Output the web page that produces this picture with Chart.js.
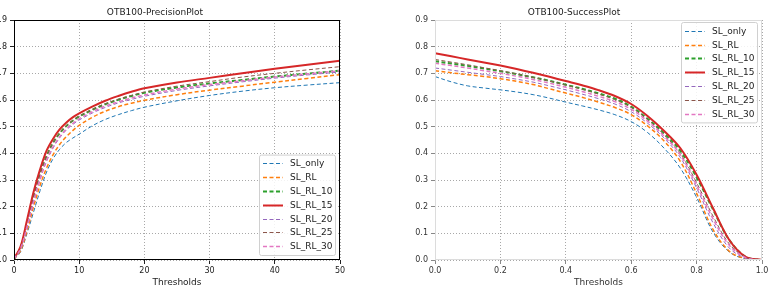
<!doctype html>
<html lang="en">
<head>
<meta charset="utf-8">
<title>OTB100 precision / success</title>
<style>
  html, body { margin: 0; padding: 0; background: #fff; overflow: hidden; }
  #wrap { position: relative; width: 772px; height: 288px; overflow: hidden; }
  canvas { position: absolute; top: 0; }
  #precisionChart { left: -30px; }
  #successChart { left: 386px; }
</style>
</head>
<body>
<div id="wrap">
  <canvas id="precisionChart" width="416" height="288"></canvas>
  <canvas id="successChart" width="425" height="288"></canvas>
</div>
<script src="https://cdn.jsdelivr.net/npm/chart.js@4.4.0/dist/chart.umd.min.js"></script>
<script>
// series names, same order in both plots
const seriesNames = ['SL_only', 'SL_RL', 'SL_RL_10', 'SL_RL_15', 'SL_RL_20', 'SL_RL_25', 'SL_RL_30'];

// precision plot (location error thresholds, px)
const precThresholds = [0, 1, 2, 3, 4, 5, 6, 7, 8, 9, 10, 12, 14, 16, 18, 20, 25, 30, 35, 40, 45, 50];
const precSLonly = [0.003, 0.03, 0.10, 0.18, 0.26, 0.33, 0.38, 0.415, 0.44, 0.457, 0.472, 0.503, 0.527, 0.545, 0.56, 0.573, 0.597, 0.617, 0.633, 0.646, 0.656, 0.665];
const precSLRL = [0.004, 0.035, 0.11, 0.20, 0.28, 0.345, 0.395, 0.433, 0.462, 0.485, 0.505, 0.535, 0.558, 0.575, 0.588, 0.599, 0.62, 0.637, 0.652, 0.667, 0.681, 0.695];
const precSLRL10 = [0.005, 0.045, 0.135, 0.24, 0.325, 0.39, 0.44, 0.475, 0.502, 0.522, 0.538, 0.563, 0.584, 0.601, 0.615, 0.627, 0.647, 0.662, 0.675, 0.688, 0.699, 0.71];
const precSLRL15 = [0.005, 0.05, 0.15, 0.255, 0.34, 0.41, 0.455, 0.49, 0.515, 0.535, 0.55, 0.575, 0.597, 0.615, 0.631, 0.644, 0.666, 0.683, 0.70, 0.717, 0.732, 0.747];
const precSLRL20 = [0.004, 0.04, 0.12, 0.215, 0.30, 0.37, 0.42, 0.458, 0.487, 0.508, 0.525, 0.551, 0.572, 0.589, 0.602, 0.614, 0.636, 0.653, 0.668, 0.682, 0.694, 0.705];
const precSLRL25 = [0.005, 0.045, 0.13, 0.235, 0.32, 0.39, 0.44, 0.476, 0.503, 0.523, 0.54, 0.565, 0.586, 0.603, 0.617, 0.63, 0.652, 0.669, 0.686, 0.70, 0.713, 0.725];
const precSLRL30 = [0.004, 0.042, 0.125, 0.22, 0.305, 0.375, 0.425, 0.462, 0.49, 0.512, 0.53, 0.556, 0.577, 0.593, 0.607, 0.619, 0.641, 0.658, 0.672, 0.686, 0.698, 0.71];

// success plot (overlap thresholds)
const succThresholds = [0, 0.05, 0.1, 0.15, 0.2, 0.25, 0.3, 0.35, 0.4, 0.45, 0.5, 0.55, 0.6, 0.65, 0.7, 0.75, 0.8, 0.85, 0.9, 0.95, 1.0];
const succSLonly = [0.688, 0.668, 0.653, 0.645, 0.638, 0.63, 0.62, 0.607, 0.592, 0.578, 0.563, 0.545, 0.519, 0.478, 0.42, 0.345, 0.235, 0.105, 0.03, 0.004, 0];
const succSLRL = [0.71, 0.702, 0.695, 0.688, 0.68, 0.67, 0.658, 0.642, 0.626, 0.61, 0.592, 0.572, 0.545, 0.503, 0.447, 0.37, 0.25, 0.115, 0.033, 0.005, 0];
const succSLRL10 = [0.745, 0.737, 0.728, 0.718, 0.708, 0.697, 0.685, 0.672, 0.657, 0.642, 0.625, 0.605, 0.575, 0.53, 0.476, 0.41, 0.31, 0.19, 0.075, 0.012, 0];
const succSLRL15 = [0.775, 0.764, 0.752, 0.741, 0.729, 0.716, 0.702, 0.687, 0.671, 0.655, 0.637, 0.615, 0.585, 0.54, 0.485, 0.42, 0.32, 0.195, 0.075, 0.012, 0];
const succSLRL20 = [0.72, 0.712, 0.704, 0.696, 0.688, 0.678, 0.667, 0.653, 0.638, 0.622, 0.605, 0.585, 0.556, 0.513, 0.458, 0.385, 0.27, 0.14, 0.045, 0.007, 0];
const succSLRL25 = [0.752, 0.742, 0.732, 0.721, 0.71, 0.698, 0.685, 0.671, 0.656, 0.64, 0.622, 0.601, 0.572, 0.527, 0.47, 0.40, 0.29, 0.165, 0.06, 0.01, 0];
const succSLRL30 = [0.738, 0.729, 0.72, 0.71, 0.70, 0.689, 0.677, 0.663, 0.648, 0.632, 0.614, 0.594, 0.565, 0.521, 0.465, 0.395, 0.28, 0.155, 0.055, 0.009, 0];

const precSeries = [precSLonly, precSLRL, precSLRL10, precSLRL15, precSLRL20, precSLRL25, precSLRL30];
const succSeries = [succSLonly, succSLRL, succSLRL10, succSLRL15, succSLRL20, succSLRL25, succSLRL30];

// matplotlib default cycle
const colors = ['#1f77b4', '#ff7f0e', '#2ca02c', '#d62728', '#9467bd', '#8c564b', '#e377c2'];
const widths = [1, 1.5, 2, 2, 1, 1, 1.5];
const dashes = [[4, 2.5], [4, 2.5], [4, 2.5], [], [4, 2.5], [4, 2.5], [4, 2.5]];

Chart.defaults.font.family = '"DejaVu Sans", sans-serif';
Chart.defaults.animation = false;

function makeDatasets(xs, series) {
  return series.map((vals, i) => ({
    label: seriesNames[i],
    data: xs.map((x, j) => ({ x: x, y: vals[j] })),
    borderColor: colors[i],
    backgroundColor: colors[i],
    borderWidth: widths[i],
    borderDash: dashes[i],
    pointRadius: 0,
    fill: false,
    tension: 0.35,
    order: series.length - i
  }));
}

// box around the axes
const framePlugin = {
  id: 'frame',
  afterDatasetsDraw(chart, args, opts) {
    const a = chart.chartArea, ctx = chart.ctx;
    ctx.save();
    ctx.strokeStyle = opts.color || '#000';
    ctx.lineWidth = 1;
    ctx.strokeRect(Math.round(a.left) + 0.5, Math.round(a.top) + 0.5,
                   Math.round(a.right - a.left) - 1, Math.round(a.bottom - a.top) - 1);
    ctx.restore();
  }
};

// matplotlib-like legend inside the axes
const boxLegend = {
  id: 'boxLegend',
  afterDraw(chart, args, opts) {
    const a = chart.chartArea, ctx = chart.ctx;
    const sets = chart.data.datasets;
    const rowH = 13.8, w = 76, h = rowH * (sets.length - 1) + 17.6;
    const left = a.right - 5 - w;
    const top = opts.corner === 'top' ? a.top + 2 : a.bottom - 5 - h;
    ctx.save();
    ctx.fillStyle = 'rgba(255,255,255,0.85)';
    ctx.strokeStyle = '#d0d0d0';
    ctx.lineWidth = 1;
    ctx.beginPath();
    ctx.roundRect(left + 0.5, top + 0.5, w, h, 2);
    ctx.fill();
    ctx.stroke();
    ctx.font = '9px "DejaVu Sans"';
    ctx.textBaseline = 'middle';
    sets.forEach((ds, i) => {
      const y = Math.round(top + 8.8 + i * rowH) + 0.5;
      ctx.strokeStyle = ds.borderColor;
      ctx.lineWidth = ds.borderWidth;
      ctx.setLineDash(ds.borderDash);
      ctx.beginPath();
      ctx.moveTo(left + 4, y);
      ctx.lineTo(left + 24, y);
      ctx.stroke();
      ctx.setLineDash([]);
      ctx.fillStyle = '#222';
      ctx.fillText(ds.label, left + 31, y);
    });
    ctx.restore();
  }
};

function axisOpts(min, max, step, fmt, tickColor, labelColor, fit) {
  return {
    type: 'linear', min: min, max: max,
    ticks: { stepSize: step, callback: fmt, color: labelColor, font: { size: 8 }, padding: 3, maxRotation: 0 },
    grid: { color: '#a8a8a8', lineWidth: 1, tickColor: tickColor, tickLength: 4, tickWidth: 1 },
    border: { display: false, dash: [1, 2] },
    afterFit: fit
  };
}

function buildChart(id, xs, series, opt) {
  const xAxis = axisOpts(opt.xMin, opt.xMax, opt.xStep, opt.xFmt, opt.tickColor, opt.labelColor, s => { s.height = 28; });
  xAxis.ticks.padding = 2;
  xAxis.title = { display: true, text: 'Thresholds', font: { size: 9 }, color: opt.labelColor, padding: 0 };
  const yAxis = axisOpts(0, 0.9, 0.1, v => v.toFixed(1), opt.tickColor, opt.labelColor, s => { s.width = opt.yWidth; });
  return new Chart(document.getElementById(id), {
    type: 'line',
    data: { datasets: makeDatasets(xs, series) },
    options: {
      responsive: false,
      layout: { padding: { left: 0, right: opt.padRight, top: 0, bottom: 0 } },
      scales: { x: xAxis, y: yAxis },
      plugins: {
        legend: { display: false },
        tooltip: { enabled: false },
        title: { display: true, text: opt.title, color: '#222', font: { size: 9, weight: 'normal' }, padding: { top: 7.4, bottom: 1.8 } },
        frame: { color: opt.frameColor },
        boxLegend: { corner: opt.legendCorner }
      }
    },
    plugins: [framePlugin, boxLegend]
  });
}

buildChart('precisionChart', precThresholds, precSeries, {
  title: 'OTB100-PrecisionPlot',
  xMin: 0, xMax: 50, xStep: 10, xFmt: v => String(v),
  yWidth: 44, padRight: 46,
  tickColor: '#222', labelColor: '#222', frameColor: '#000',
  legendCorner: 'bottom'
});

buildChart('successChart', succThresholds, succSeries, {
  title: 'OTB100-SuccessPlot',
  xMin: 0, xMax: 1, xStep: 0.2, xFmt: v => v.toFixed(1),
  yWidth: 49, padRight: 49,
  tickColor: '#888', labelColor: '#333', frameColor: '#dcdcdc',
  legendCorner: 'top'
});
</script>
</body>
</html>
